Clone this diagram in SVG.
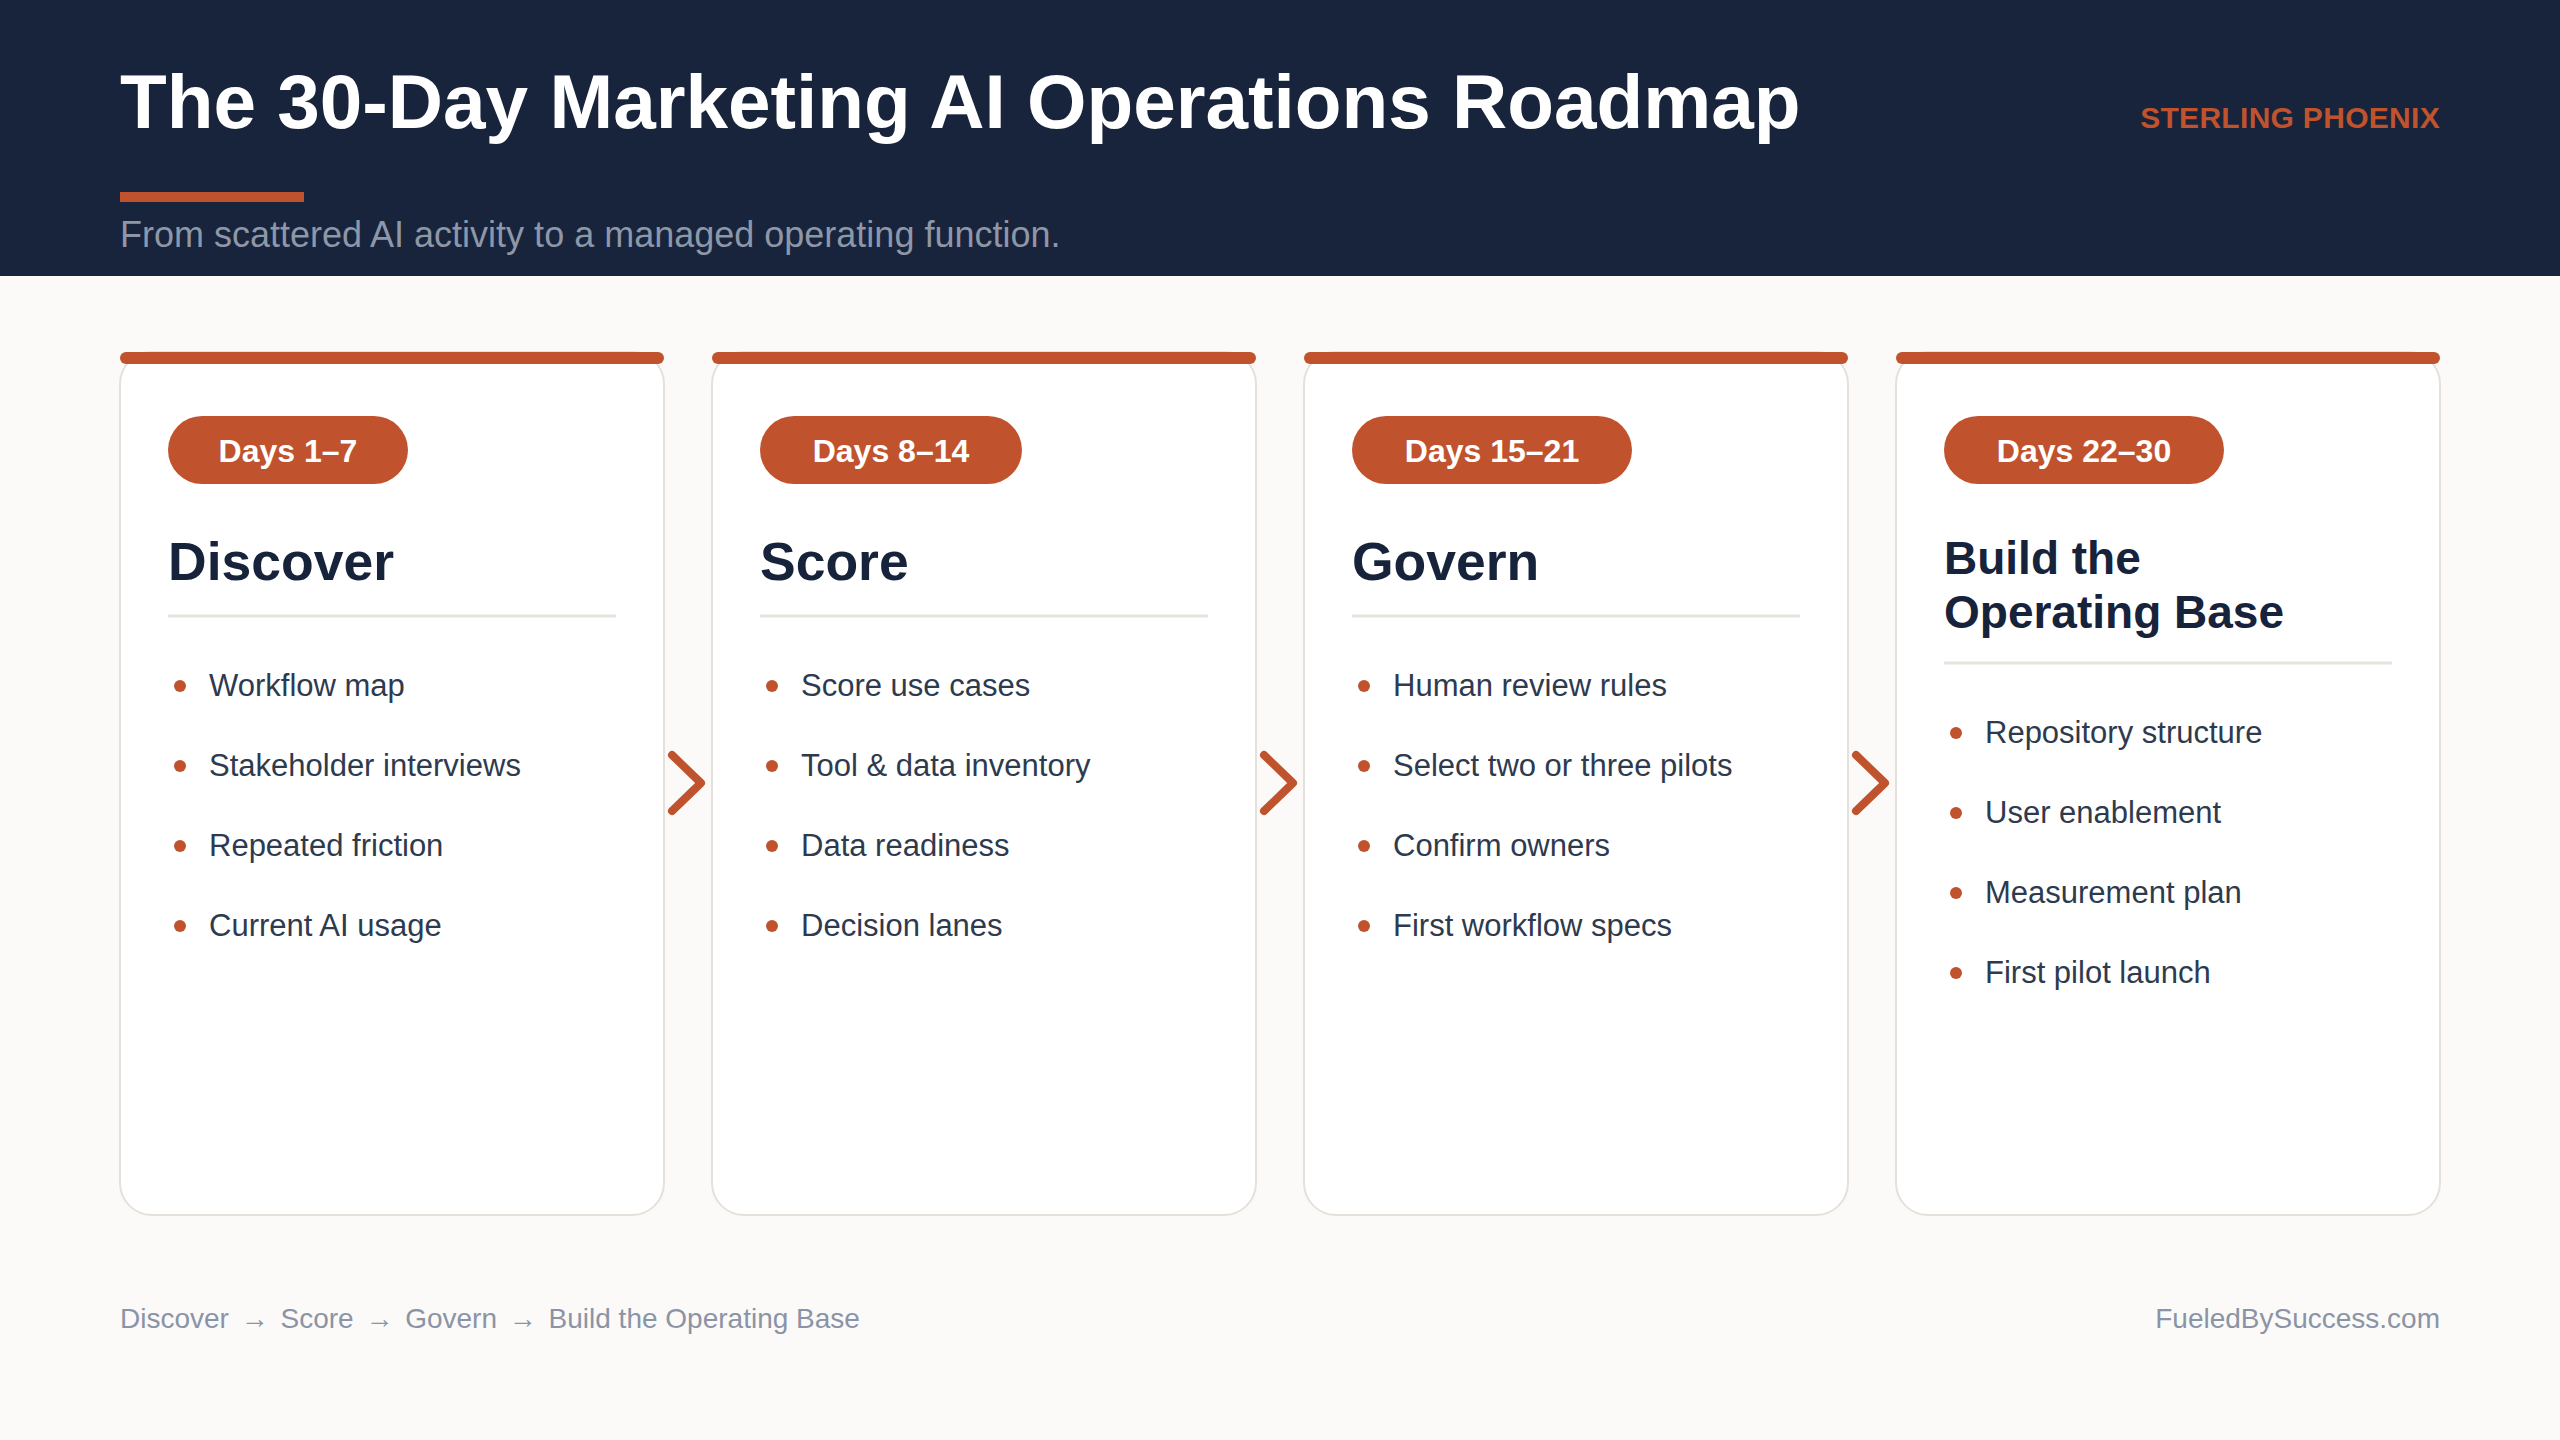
<svg xmlns="http://www.w3.org/2000/svg" width="2560" height="1440" viewBox="0 0 2560 1440">
<defs>
<style>
.card{fill:#FFFFFF;stroke:#E5E1DA;stroke-width:2}
.bar{fill:#C0532D}
.pill{fill:#C0532D}
.pilltxt{font-family:"Liberation Sans",Arial,sans-serif;font-weight:bold;font-size:32px;fill:#FFFFFF;text-anchor:middle}
.head{font-family:"Liberation Sans",Arial,sans-serif;font-weight:bold;font-size:53.5px;fill:#16233A}
.head4{font-family:"Liberation Sans",Arial,sans-serif;font-weight:bold;font-size:46px;fill:#16233A}
.div{stroke:#E7E3DD;stroke-width:3}
.dot{fill:#C0532D}
.item{font-family:"Liberation Sans",Arial,sans-serif;font-size:31px;fill:#2E3A4E}
.chev{fill:none;stroke:#C0532D;stroke-width:8;stroke-linecap:round;stroke-linejoin:round}
.foot{font-family:"Liberation Sans",Arial,sans-serif;font-size:28px;fill:#8A94A6}
</style>
</defs>
<rect x="0" y="0" width="2560" height="1440" fill="#FBFAF8"/>
<g id="header">
<rect x="0" y="0" width="2560" height="276" fill="#17243B"/>
<text x="120" y="128" font-family="Liberation Sans, Arial, sans-serif" font-weight="bold" font-size="76.5" fill="#FFFFFF">The 30-Day Marketing AI Operations Roadmap</text>
<rect x="120" y="192" width="184" height="10" fill="#C0532D"/>
<text x="120" y="247" font-family="Liberation Sans, Arial, sans-serif" font-size="36" fill="#8E97A8">From scattered AI activity to a managed operating function.</text>
<text x="2440" y="128" text-anchor="end" font-family="Liberation Sans, Arial, sans-serif" font-weight="bold" font-size="30" letter-spacing="0.3" fill="#C0532D">STERLING PHOENIX</text>
</g>
<g id="card-discover">
<rect class="card" x="120" y="352" width="544" height="863" rx="32"/>
<rect class="bar" x="120" y="352" width="544" height="12" rx="6"/>
<rect class="pill" x="168" y="416" width="240" height="68" rx="34"/>
<text class="pilltxt" x="288" y="462">Days 1–7</text>
<text class="head" x="168" y="580">Discover</text>
<line class="div" x1="168" y1="616" x2="616" y2="616"/>
<circle class="dot" cx="180" cy="686" r="6"/><text class="item" x="209" y="696">Workflow map</text>
<circle class="dot" cx="180" cy="766" r="6"/><text class="item" x="209" y="776">Stakeholder interviews</text>
<circle class="dot" cx="180" cy="846" r="6"/><text class="item" x="209" y="856">Repeated friction</text>
<circle class="dot" cx="180" cy="926" r="6"/><text class="item" x="209" y="936">Current AI usage</text>
</g>
<g id="card-score">
<rect class="card" x="712" y="352" width="544" height="863" rx="32"/>
<rect class="bar" x="712" y="352" width="544" height="12" rx="6"/>
<rect class="pill" x="760" y="416" width="262" height="68" rx="34"/>
<text class="pilltxt" x="891" y="462">Days 8–14</text>
<text class="head" x="760" y="580">Score</text>
<line class="div" x1="760" y1="616" x2="1208" y2="616"/>
<circle class="dot" cx="772" cy="686" r="6"/><text class="item" x="801" y="696">Score use cases</text>
<circle class="dot" cx="772" cy="766" r="6"/><text class="item" x="801" y="776">Tool &amp; data inventory</text>
<circle class="dot" cx="772" cy="846" r="6"/><text class="item" x="801" y="856">Data readiness</text>
<circle class="dot" cx="772" cy="926" r="6"/><text class="item" x="801" y="936">Decision lanes</text>
</g>
<g id="card-govern">
<rect class="card" x="1304" y="352" width="544" height="863" rx="32"/>
<rect class="bar" x="1304" y="352" width="544" height="12" rx="6"/>
<rect class="pill" x="1352" y="416" width="280" height="68" rx="34"/>
<text class="pilltxt" x="1492" y="462">Days 15–21</text>
<text class="head" x="1352" y="580">Govern</text>
<line class="div" x1="1352" y1="616" x2="1800" y2="616"/>
<circle class="dot" cx="1364" cy="686" r="6"/><text class="item" x="1393" y="696">Human review rules</text>
<circle class="dot" cx="1364" cy="766" r="6"/><text class="item" x="1393" y="776">Select two or three pilots</text>
<circle class="dot" cx="1364" cy="846" r="6"/><text class="item" x="1393" y="856">Confirm owners</text>
<circle class="dot" cx="1364" cy="926" r="6"/><text class="item" x="1393" y="936">First workflow specs</text>
</g>
<g id="card-build">
<rect class="card" x="1896" y="352" width="544" height="863" rx="32"/>
<rect class="bar" x="1896" y="352" width="544" height="12" rx="6"/>
<rect class="pill" x="1944" y="416" width="280" height="68" rx="34"/>
<text class="pilltxt" x="2084" y="462">Days 22–30</text>
<text class="head4" x="1944" y="574">Build the</text>
<text class="head4" x="1944" y="628">Operating Base</text>
<line class="div" x1="1944" y1="663" x2="2392" y2="663"/>
<circle class="dot" cx="1956" cy="733" r="6"/><text class="item" x="1985" y="743">Repository structure</text>
<circle class="dot" cx="1956" cy="813" r="6"/><text class="item" x="1985" y="823">User enablement</text>
<circle class="dot" cx="1956" cy="893" r="6"/><text class="item" x="1985" y="903">Measurement plan</text>
<circle class="dot" cx="1956" cy="973" r="6"/><text class="item" x="1985" y="983">First pilot launch</text>
</g>
<g id="connectors">
<path class="chev" d="M672 755 L701 783 L672 811"/>
<path class="chev" d="M1264 755 L1293 783 L1264 811"/>
<path class="chev" d="M1856 755 L1885 783 L1856 811"/>
</g>
<g id="footer">
<text class="foot" x="120" y="1328">Discover <tspan dx="4">→</tspan><tspan dx="4"> Score </tspan><tspan dx="4">→</tspan><tspan dx="4"> Govern </tspan><tspan dx="4">→</tspan><tspan dx="4"> Build the Operating Base</tspan></text>
<text class="foot" x="2440" y="1328" text-anchor="end">FueledBySuccess.com</text>
</g>
</svg>
